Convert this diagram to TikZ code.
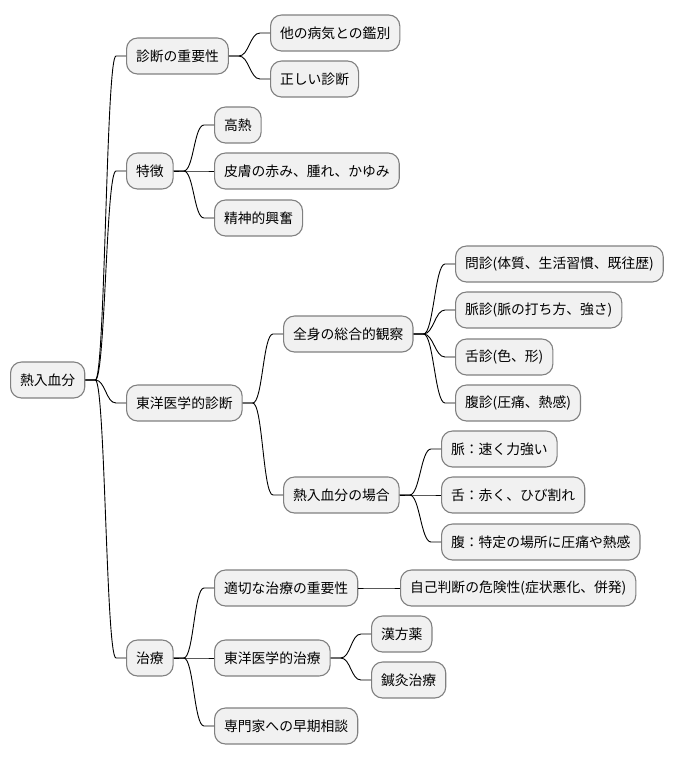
\documentclass[tikz,border=0pt]{standalone}
\usepackage{fontspec}
\setmainfont{Noto Sans CJK JP}
\usepackage{xcolor}
\usepackage{tikz}
\usetikzlibrary{positioning}

\definecolor{boxfill}{HTML}{F1F1F1}
\definecolor{boxline}{HTML}{808080}

\begin{document}
\begin{tikzpicture}[
  x=1pt, y=1pt,
  topic/.style={draw=boxline, line width=1.1pt, rounded corners=11pt, fill=boxfill, minimum height=36pt, inner xsep=9.5pt, anchor=west, font=\fontsize{13.8}{16}\selectfont},
  link/.style={line width=0.9pt, to path={-- ++(10pt,0) .. controls +(10pt,0) and +(-10pt,0) .. ([xshift=-10pt]\tikztotarget.west) -- (\tikztotarget.west)}},
]
\useasboundingbox (0,0) rectangle (679,-761);

% root
\node[topic] (root) at (10,-380) {熱入血分};

% first level
\node[topic] (diag) at (126,-56) {診断の重要性};
\node[topic] (feat) at (126,-171) {特徴};
\node[topic] (eastdiag) at (126,-403) {東洋医学的診断};
\node[topic] (treat) at (126,-658) {治療};

% diagnosis
\node[topic] (differ) at (270,-33) {他の病気との鑑別};
\node[topic] (correct) at (270,-79) {正しい診断};

% features
\node[topic] (fever) at (214,-125) {高熱};
\node[topic] (skin) at (214,-171) {皮膚の赤み、腫れ、かゆみ};
\node[topic] (mental) at (214,-218) {精神的興奮};

% eastern diagnosis
\node[topic] (whole) at (283,-334) {全身の総合的観察};
\node[topic] (inquiry) at (455,-264) {問診(体質、生活習慣、既往歴)};
\node[topic] (pulse) at (455,-310) {脈診(脈の打ち方、強さ)};
\node[topic] (tongue) at (455,-357) {舌診(色、形)};
\node[topic] (abdomen) at (455,-403) {腹診(圧痛、熱感)};
\node[topic] (case) at (283,-495) {熱入血分の場合};
\node[topic] (casepulse) at (441,-449) {脈：速く力強い};
\node[topic] (casetongue) at (441,-495) {舌：赤く、ひび割れ};
\node[topic] (caseabd) at (441,-542) {腹：特定の場所に圧痛や熱感};

% treatment
\node[topic] (proper) at (214,-588) {適切な治療の重要性};
\node[topic] (selfjudge) at (400,-588) {自己判断の危険性(症状悪化、併発)};
\node[topic] (easttreat) at (214,-658) {東洋医学的治療};
\node[topic] (kampo) at (371,-634) {漢方薬};
\node[topic] (acupunct) at (371,-680) {鍼灸治療};
\node[topic] (consult) at (214,-726) {専門家への早期相談};

% connectors
\draw[link] (root.east) to (diag);
\draw[link] (root.east) to (feat);
\draw[link] (root.east) to (eastdiag);
\draw[link] (root.east) to (treat);

\draw[link] (diag.east) to (differ);
\draw[link] (diag.east) to (correct);

\draw[link] (feat.east) to (fever);
\draw[link] (feat.east) to (skin);
\draw[link] (feat.east) to (mental);

\draw[link] (eastdiag.east) to (whole);
\draw[link] (eastdiag.east) to (case);
\draw[link] (whole.east) to (inquiry);
\draw[link] (whole.east) to (pulse);
\draw[link] (whole.east) to (tongue);
\draw[link] (whole.east) to (abdomen);
\draw[link] (case.east) to (casepulse);
\draw[link] (case.east) to (casetongue);
\draw[link] (case.east) to (caseabd);

\draw[link] (treat.east) to (proper);
\draw[link] (treat.east) to (easttreat);
\draw[link] (treat.east) to (consult);
\draw[link] (proper.east) to (selfjudge);
\draw[link] (easttreat.east) to (kampo);
\draw[link] (easttreat.east) to (acupunct);

\end{tikzpicture}
\end{document}
